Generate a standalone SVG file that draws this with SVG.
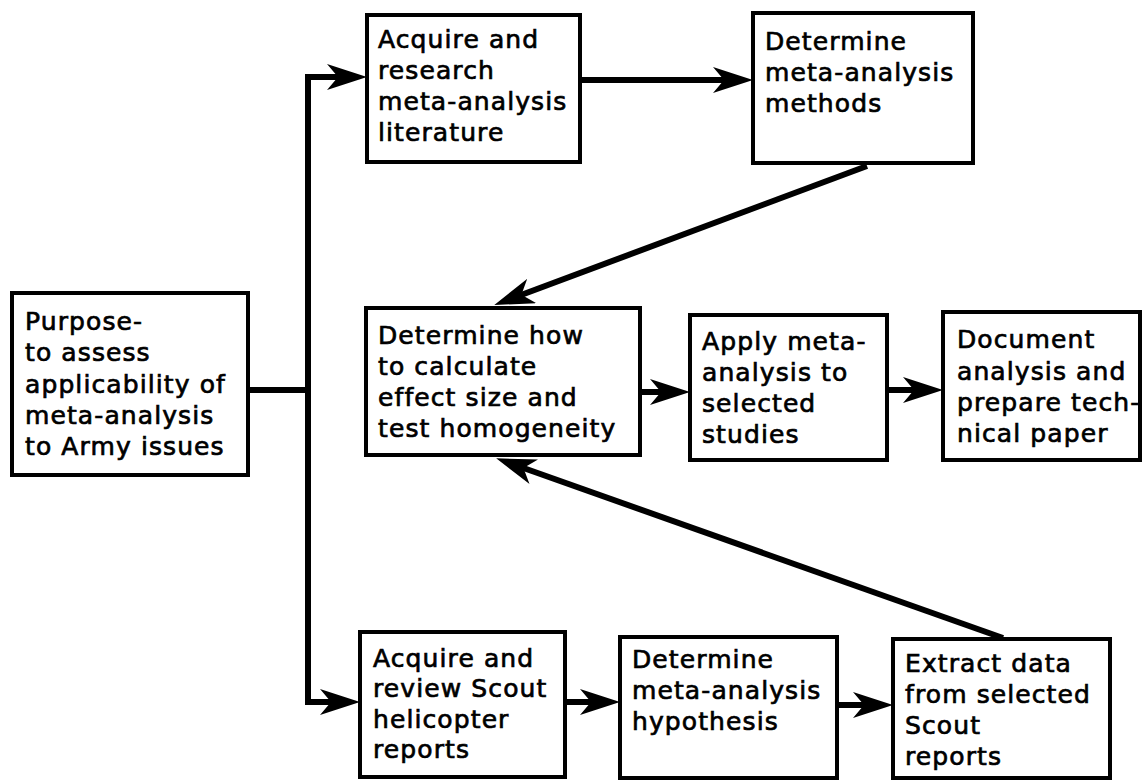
<svg xmlns="http://www.w3.org/2000/svg" width="1148" height="780" viewBox="0 0 1148 780">
<style>
.box{fill:#fff;stroke:#000;stroke-width:4}
.t{font-family:"DejaVu Sans",sans-serif;font-size:25px;letter-spacing:1.1px;fill:#000;stroke:#000;stroke-width:0.7px}
.c{stroke:#000;stroke-width:6;fill:none}
</style>
<defs>
<marker id="ah" markerUnits="userSpaceOnUse" viewBox="0 0 40 26" refX="20" refY="13" markerWidth="40" markerHeight="26" orient="auto">
<path d="M0,0 L40,13 L0,26 L11,13 Z" fill="#000"/>
</marker>
</defs>
<rect width="1148" height="780" fill="#fff"/>
<g id="connectors">
<polyline class="c" points="248,390 308,390"/>
<polyline class="c" points="308,702 308,77 347,77" marker-end="url(#ah)"/>
<polyline class="c" points="308,700 308,702 340,702" marker-end="url(#ah)"/>
<line class="c" x1="580" y1="80" x2="733" y2="80" marker-end="url(#ah)"/>
<line class="c" x1="867" y1="166" x2="513" y2="298" marker-end="url(#ah)"/>
<line class="c" x1="1003" y1="638" x2="515" y2="465" marker-end="url(#ah)"/>
<line class="c" x1="640" y1="392" x2="670" y2="392" marker-end="url(#ah)"/>
<line class="c" x1="887" y1="390" x2="923" y2="390" marker-end="url(#ah)"/>
<line class="c" x1="565" y1="702" x2="600" y2="702" marker-end="url(#ah)"/>
<line class="c" x1="837" y1="705" x2="873" y2="705" marker-end="url(#ah)"/>
</g>
<g id="purpose">
<rect class="box" x="12" y="293" width="236" height="182"/>
<text class="t" x="25" y="330">Purpose-</text>
<text class="t" x="25" y="361">to assess</text>
<text class="t" x="25" y="393">applicability of</text>
<text class="t" x="25" y="424">meta-analysis</text>
<text class="t" x="25" y="455">to Army issues</text>
</g>
<g id="acquire-literature">
<rect class="box" x="367" y="15" width="213" height="147"/>
<text class="t" x="378" y="48">Acquire and</text>
<text class="t" x="378" y="79">research</text>
<text class="t" x="378" y="110">meta-analysis</text>
<text class="t" x="378" y="141">literature</text>
</g>
<g id="determine-methods">
<rect class="box" x="753" y="13" width="220" height="150"/>
<text class="t" x="765" y="50">Determine</text>
<text class="t" x="765" y="81">meta-analysis</text>
<text class="t" x="765" y="112">methods</text>
</g>
<g id="determine-effect">
<rect class="box" x="366" y="308" width="274" height="147"/>
<text class="t" x="378" y="344">Determine how</text>
<text class="t" x="378" y="375">to calculate</text>
<text class="t" x="378" y="406">effect size and</text>
<text class="t" x="378" y="437">test homogeneity</text>
</g>
<g id="apply">
<rect class="box" x="690" y="315" width="197" height="145"/>
<text class="t" x="702" y="350">Apply meta-</text>
<text class="t" x="702" y="381">analysis to</text>
<text class="t" x="702" y="412">selected</text>
<text class="t" x="702" y="443">studies</text>
</g>
<g id="document">
<rect class="box" x="943" y="312" width="197" height="148"/>
<text class="t" x="957" y="348">Document</text>
<text class="t" x="957" y="380">analysis and</text>
<text class="t" x="957" y="411">prepare tech-</text>
<text class="t" x="957" y="442">nical paper</text>
</g>
<g id="acquire-scout">
<rect class="box" x="360" y="632" width="205" height="145"/>
<text class="t" x="373" y="667">Acquire and</text>
<text class="t" x="373" y="697">review Scout</text>
<text class="t" x="373" y="728">helicopter</text>
<text class="t" x="373" y="758">reports</text>
</g>
<g id="hypothesis">
<rect class="box" x="620" y="637" width="217" height="141"/>
<text class="t" x="632" y="668">Determine</text>
<text class="t" x="632" y="699">meta-analysis</text>
<text class="t" x="632" y="730">hypothesis</text>
</g>
<g id="extract">
<rect class="box" x="893" y="639" width="217" height="139"/>
<text class="t" x="905" y="672">Extract data</text>
<text class="t" x="905" y="703">from selected</text>
<text class="t" x="905" y="734">Scout</text>
<text class="t" x="905" y="765">reports</text>
</g>
</svg>
